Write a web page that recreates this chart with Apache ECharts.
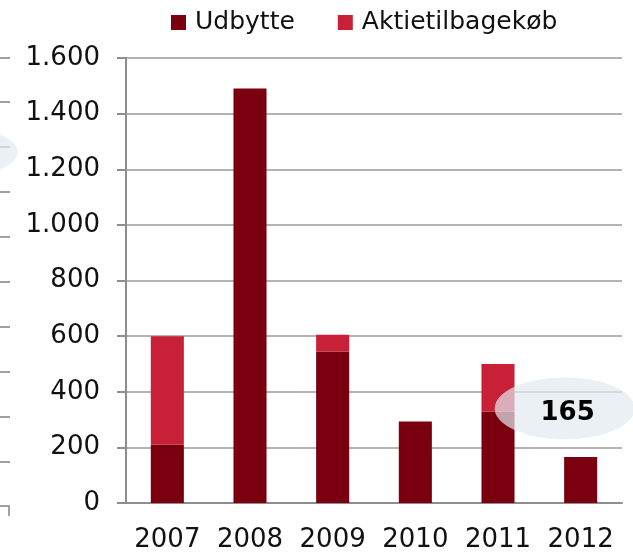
<!DOCTYPE html>
<html>
<head>
<meta charset="utf-8">
<script src="https://cdn.jsdelivr.net/npm/echarts@6/dist/echarts.min.js"></script>
<style>
  html, body { margin: 0; padding: 0; background: #fff; }
  #chart { width: 633px; height: 555px; }
</style>
</head>
<body>
<div id="chart"></div>
<script>
const years = ['2007', '2008', '2009', '2010', '2011', '2012'];
const udbytte = [210, 1490, 545, 293, 328, 165];
const tilbagekob = [390, 0, 60, 0, 172, 0];
const seriesNames = ['Udbytte', 'Aktietilbagekøb'];
const calloutYear = '2012';

const darkRed = '#7a0010';
const lightRed = '#c82137';
const axisGray = '#8e8e8e';
const font = '"DejaVu Sans", Verdana, sans-serif';

const chart = echarts.init(document.getElementById('chart'));

// decoration: edge of the neighbouring chart on the left
const leftTicks = [58, 102, 147, 192, 237, 282, 327, 372, 417, 462].map(y => ({
  type: 'line', shape: { x1: 0, y1: y, x2: 10, y2: y },
  style: { stroke: '#a0a0a0', lineWidth: 2 }
}));

const calloutIdx = years.indexOf(calloutYear);

chart.setOption({
  animation: false,
  textStyle: { fontFamily: font },
  legend: {
    left: 171, top: 10, padding: 0,
    itemWidth: 15, itemHeight: 15, itemGap: 43,
    icon: 'rect',
    textStyle: { fontSize: 25, color: '#111', fontFamily: font, padding: [0, 0, 0, 4] },
    data: seriesNames
  },
  grid: { left: 126, right: 11, top: 58, bottom: 52, containLabel: false },
  xAxis: {
    type: 'category',
    data: years,
    axisLine: { lineStyle: { color: axisGray, width: 2 } },
    axisTick: { length: 10, lineStyle: { color: axisGray, width: 2 } },
    axisLabel: { interval: 0, fontSize: 26, color: '#111', margin: 24, fontFamily: font }
  },
  yAxis: {
    type: 'value', min: 0, max: 1600, interval: 200,
    axisLine: { show: true, lineStyle: { color: axisGray, width: 2 } },
    axisTick: { show: true, length: 9, lineStyle: { color: axisGray, width: 2 } },
    splitLine: { lineStyle: { color: '#9a9a9a', width: 1.5 } },
    axisLabel: {
      fontSize: 26, color: '#111', margin: 26, fontFamily: font,
      formatter: v => v.toString().replace(/\B(?=(\d{3})+(?!\d))/g, '.')
    }
  },
  series: [
    {
      name: seriesNames[0], type: 'bar', stack: 'total', barWidth: '40%',
      itemStyle: { color: darkRed },
      data: udbytte,
      markPoint: {
        symbol: 'path://M0,50 A100,50 0 1,1 200,50 A100,50 0 1,1 0,50 Z',
        symbolSize: [140, 62],
        symbolOffset: [-16, 0],
        itemStyle: { color: 'rgba(226,234,240,0.7)' },
        label: {
          show: true, fontSize: 26, fontWeight: 'bold', color: '#000', fontFamily: font,
          offset: [3, 5],
          formatter: () => String(udbytte[calloutIdx])
        },
        data: [{ coord: [calloutYear, 340] }]
      }
    },
    {
      name: seriesNames[1], type: 'bar', stack: 'total', barWidth: '40%',
      itemStyle: { color: lightRed },
      data: tilbagekob
    }
  ],
  graphic: leftTicks.concat([
    {
      type: 'polyline',
      shape: { points: [[0, 506], [9, 506], [9, 516]] },
      style: { stroke: '#a0a0a0', lineWidth: 2, fill: null }
    },
    {
      type: 'circle', x: -40, y: 152, scaleX: 2.4, scaleY: 1,
      shape: { cx: 0, cy: 0, r: 24 },
      style: { fill: 'rgba(226,234,240,0.7)' }
    }
  ])
});
</script>
</body>
</html>
